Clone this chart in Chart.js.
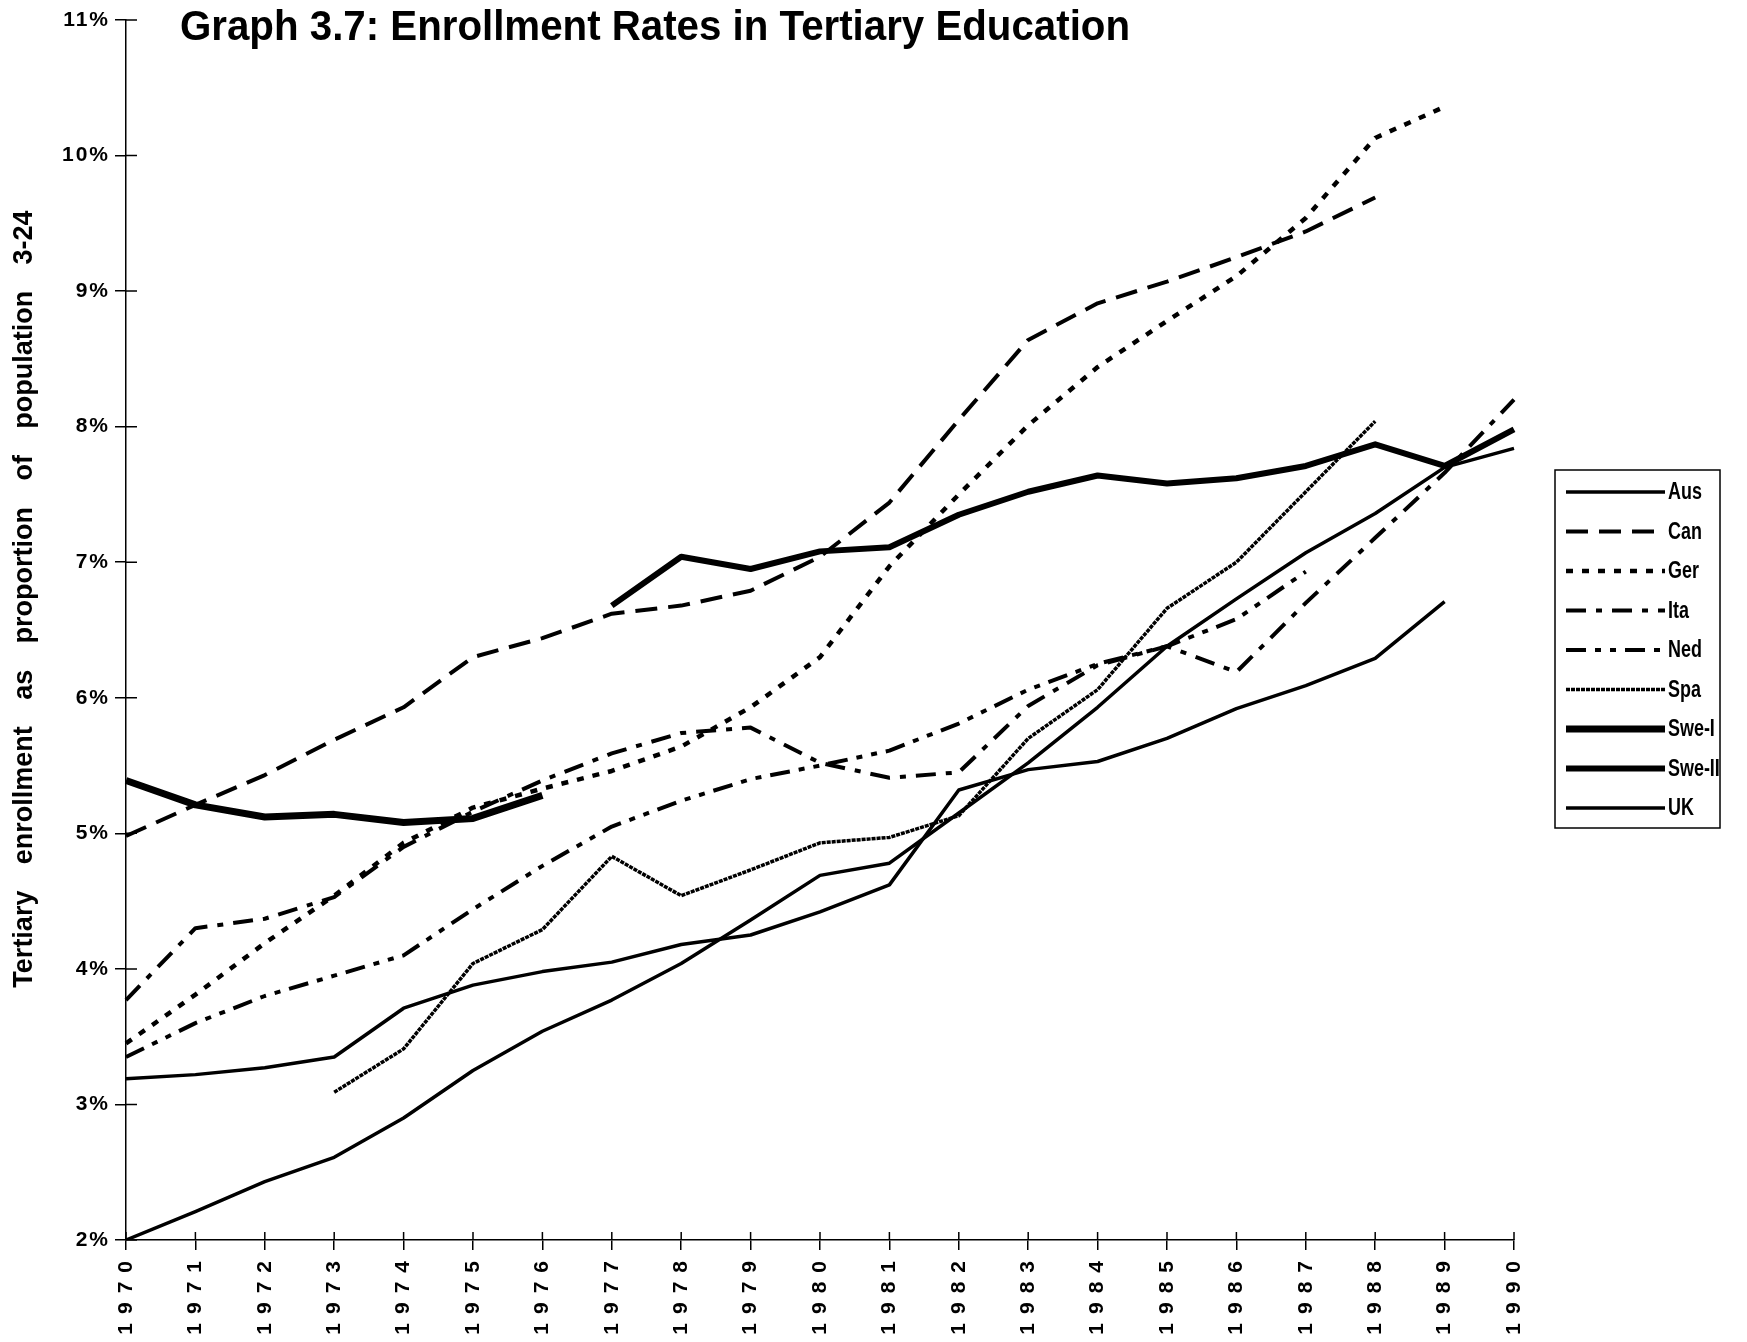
<!DOCTYPE html>
<html>
<head>
<meta charset="utf-8">
<title>Graph 3.7: Enrollment Rates in Tertiary Education</title>
<script src="https://cdn.jsdelivr.net/npm/chart.js@4.4.1/dist/chart.umd.min.js"></script>
<style>
  html, body { margin: 0; padding: 0; background: #fff; }
  #wrap { width: 1747px; height: 1342px; }
</style>
</head>
<body>
<div id="wrap"><canvas id="enrollChart" width="1747" height="1342"></canvas></div>
<script>
/* ----------------------------------
 * DATA (enrollment as % of population 3-24)
 * ---------------------------------- */
const years = ["1970","1971","1972","1973","1974","1975","1976","1977","1978","1979",
               "1980","1981","1982","1983","1984","1985","1986","1987","1988","1989","1990"];

const aus   = [3.19, 3.22, 3.27, 3.35, 3.71, 3.88, 3.98, 4.05, 4.18, 4.25, 4.42, 4.62, 5.32, 5.47, 5.53, 5.70, 5.92, 6.09, 6.29, 6.71, null];
const can   = [4.98, 5.21, 5.43, 5.69, 5.93, 6.30, 6.44, 6.62, 6.68, 6.79, 7.04, 7.44, 8.05, 8.64, 8.91, 9.07, 9.25, 9.44, 9.69, null, null];
const ger   = [3.45, 3.81, 4.19, 4.54, 4.93, 5.19, 5.33, 5.46, 5.64, 5.93, 6.30, 6.97, 7.50, 8.01, 8.44, 8.78, 9.11, 9.54, 10.13, 10.36, null];
const ita   = [3.77, 4.30, 4.37, 4.53, 4.90, 5.16, 5.39, 5.59, 5.74, 5.78, 5.52, 5.41, 5.45, 5.94, 6.24, 6.38, 6.19, 6.70, 7.18, 7.66, 8.20];
const ned   = [3.35, 3.60, 3.80, 3.95, 4.10, 4.44, 4.76, 5.05, 5.24, 5.40, 5.50, 5.61, 5.81, 6.06, 6.25, 6.38, 6.58, 6.93, null, null, null];
const spa   = [null, null, null, 3.09, 3.41, 4.04, 4.29, 4.83, 4.54, 4.73, 4.93, 4.97, 5.13, 5.70, 6.06, 6.66, 7.00, 7.52, 8.04, null, null];
const sweI  = [5.39, 5.21, 5.12, 5.14, 5.08, 5.11, 5.28, null, null, null, null, null, null, null, null, null, null, null, null, null, null];
const sweII = [null, null, null, null, null, null, null, 6.68, 7.04, 6.95, 7.08, 7.11, 7.35, 7.52, 7.64, 7.58, 7.62, 7.71, 7.87, 7.71, 7.98];
const uk    = [2.00, 2.21, 2.43, 2.61, 2.90, 3.25, 3.54, 3.77, 4.04, 4.36, 4.69, 4.78, 5.15, 5.52, 5.93, 6.38, 6.73, 7.07, 7.36, 7.70, 7.84];

const Y_MIN = 2, Y_MAX = 11;

const TITLE   = "Graph 3.7: Enrollment Rates in Tertiary Education";
const Y_TITLE = "Tertiary enrollment as proportion of population 3-24";

/* ----------------------------------
 * LAYOUT (px on a 1747 x 1342 canvas)
 * ---------------------------------- */
const W = 1747, H = 1342;
const AREA = { left: 126, right: 1514, top: 20, bottom: 1240 };
const FONT = "'Liberation Sans', Arial, sans-serif";

function line(label, data, width, dash) {
    return {
        label, data,
        borderColor: "#000",
        backgroundColor: "#000",
        borderWidth: width,
        borderDash: dash,
        borderJoinStyle: "round",
        pointRadius: 0,
        tension: 0,
        spanGaps: false,
        fill: false
    };
}

const datasets = [
    line("Aus",    aus,   3.5, []),
    line("Can",    can,   4,   [22, 11]),
    line("Ger",    ger,   4.5, [7, 9]),
    line("Ita",    ita,   4,   [20, 10, 6, 10]),
    line("Ned",    ned,   4,   [20, 9, 6, 9, 6, 9]),
    line("Spa",    spa,   3.5, [4, 1]),
    line("Swe-I",  sweI,  7,   []),
    line("Swe-II", sweII, 6,   []),
    line("UK",     uk,    3.5, [])
];

/*****************************************
 * TEXT, CROSS TICKS AND LEGEND BOX
 *****************************************/
const decor = {
    id: "decor",
    // year labels are drawn before the datasets, % labels after (ticks.z = 1)
    beforeDraw(chart) { chart.ctx.letterSpacing = "9px"; },
    afterDatasetsDraw(chart) { chart.ctx.letterSpacing = "2px"; },
    afterDraw(chart) {
        const ctx = chart.ctx;
        const { x, y } = chart.scales;
        ctx.letterSpacing = "0px";
        ctx.save();
        ctx.fillStyle = "#000";
        ctx.strokeStyle = "#000";

        // inner half of the tick marks
        ctx.lineWidth = 1.5;
        ctx.beginPath();
        y.ticks.forEach(t => {
            const py = y.getPixelForValue(t.value);
            ctx.moveTo(x.left, py); ctx.lineTo(x.left + 11, py);
        });
        x.ticks.forEach((t, i) => {
            const px = x.getPixelForTick(i);
            ctx.moveTo(px, y.bottom); ctx.lineTo(px, y.bottom - 8);
        });
        ctx.stroke();

        // title
        ctx.font = "bold 42px " + FONT;
        ctx.textAlign = "left";
        ctx.textBaseline = "alphabetic";
        const tw = ctx.measureText(TITLE).width;
        ctx.save();
        ctx.translate(180, 40);
        ctx.scale(950 / tw, 1);
        ctx.fillText(TITLE, 0, 0);
        ctx.restore();

        // y axis title
        ctx.save();
        ctx.translate(25, 599);
        ctx.rotate(-Math.PI / 2);
        ctx.font = "bold 27px " + FONT;
        ctx.textAlign = "center";
        ctx.textBaseline = "middle";
        ctx.wordSpacing = "0px";
        const nat = ctx.measureText(Y_TITLE).width;
        ctx.wordSpacing = Math.max(0, (815 - nat) / 8) + "px";
        ctx.fillText(Y_TITLE, 0, 0);
        ctx.wordSpacing = "0px";
        ctx.restore();

        // legend
        ctx.lineWidth = 1.5;
        ctx.strokeRect(1555, 470, 165, 358);
        ctx.font = "bold 23px " + FONT;
        ctx.textAlign = "left";
        ctx.textBaseline = "middle";
        chart.data.datasets.forEach((ds, i) => {
            const ly = 492 + i * 39.5;
            ctx.lineWidth = ds.borderWidth;
            ctx.setLineDash(ds.borderDash || []);
            ctx.beginPath();
            ctx.moveTo(1566, ly); ctx.lineTo(1665, ly);
            ctx.stroke();
            ctx.setLineDash([]);
            ctx.save();
            ctx.translate(1668, ly + 1);
            ctx.scale(0.78, 1);
            ctx.fillText(ds.label, 0, 0);
            ctx.restore();
        });
        ctx.restore();
    }
};

/*****************************************
 * CHART
 *****************************************/
new Chart(document.getElementById("enrollChart").getContext("2d"), {
    type: "line",
    data: { labels: years, datasets },
    plugins: [decor],
    options: {
        responsive: false,
        animation: false,
        devicePixelRatio: 1,
        layout: { padding: { top: AREA.top, right: W - AREA.right, bottom: 0, left: 0 } },
        plugins: { legend: { display: false }, title: { display: false }, tooltip: { enabled: false } },
        scales: {
            x: {
                type: "category",
                offset: false,
                afterFit(s) { s.height = H - AREA.bottom; },
                grid: { drawOnChartArea: false, drawTicks: true, tickLength: 10, color: "#000", lineWidth: 1.5 },
                border: { display: true, color: "#000", width: 1.5 },
                ticks: {
                    autoSkip: false, minRotation: 90, maxRotation: 90,
                    color: "#000", padding: 2,
                    font: { family: FONT, size: 21, weight: "bold" }
                }
            },
            y: {
                min: Y_MIN, max: Y_MAX,
                afterFit(s) { s.width = AREA.left; },
                grid: { drawOnChartArea: false, drawTicks: true, tickLength: 11, color: "#000", lineWidth: 1.5 },
                border: { display: true, color: "#000", width: 1.5 },
                ticks: {
                    stepSize: 1, z: 1, color: "#000", padding: 5,
                    font: { family: FONT, size: 21, weight: "bold" },
                    callback: v => v + "%"
                }
            }
        }
    }
});
</script>
</body>
</html>
